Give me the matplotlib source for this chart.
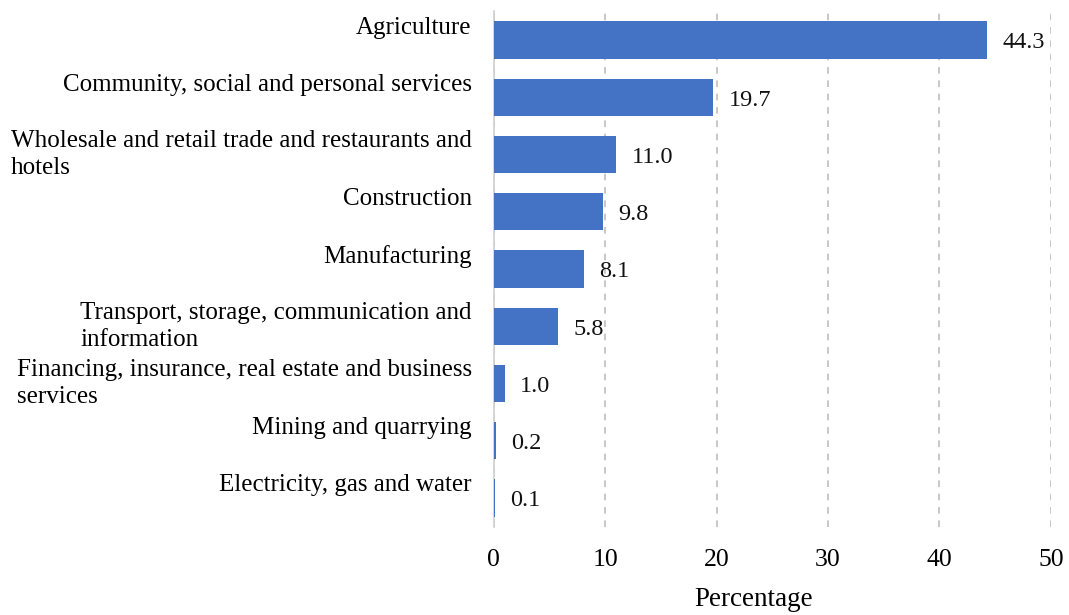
import matplotlib
matplotlib.use("Agg")
import matplotlib.pyplot as plt

# Data
# ----
sectors = ["Agriculture",
           "Community, social and personal services",
           "Wholesale and retail trade and restaurants and\nhotels",
           "Construction",
           "Manufacturing",
           "Transport, storage, communication and\ninformation",
           "Financing, insurance, real estate and business\nservices",
           "Mining and quarrying",
           "Electricity, gas and water"]
share = [44.3, 19.7, 11.0, 9.8, 8.1, 5.8, 1.0, 0.2, 0.1]
xticks = [0, 10, 20, 30, 40, 50]

plt.rcParams['font.family'] = ['Liberation Serif', 'DejaVu Serif']

fig = plt.figure(figsize=(10.69, 6.15), dpi=100)
ax = fig.add_axes([0.462, 0.1437, 0.521, 0.8378])

pos = list(range(len(sectors)))
ax.barh(pos, share, height=0.65, color='#4472c4', zorder=3)

ax.set_ylim(len(sectors) - 0.5, -0.5)
ax.set_xlim(0, 50)
ax.set_xticks(xticks)
ax.tick_params(axis='x', length=0, pad=16, labelsize=18.5)
ax.set_yticks([])

for s in ['top', 'right', 'bottom']:
  ax.spines[s].set_visible(False)
ax.spines['left'].set_color('#d0d0d0')
ax.spines['left'].set_linewidth(1.2)

ax.xaxis.grid(True, linestyle=(0, (4, 4)), color='#bfbfbf', linewidth=1.2, zorder=0)

# category labels, single-line ones sit a little above the bar centre
for i, lab in enumerate(sectors):
  dy = 0 if '\n' in lab else 9
  ax.annotate(lab, xy=(0, i), xycoords=('axes fraction', 'data'),
              xytext=(-16, dy), textcoords='offset points',
              ha='right', va='center', multialignment='left', fontsize=18,
              linespacing=1.3)

# value labels
for i, v in enumerate(share):
  ax.annotate("%.1f" % v, xy=(v, i), xytext=(11, -2), textcoords='offset points',
              ha='left', va='center', fontsize=17.5, color='#111111')

ax.set_xlabel("Percentage", fontsize=19.5)
ax.xaxis.set_label_coords(0.467, -0.118)

plt.savefig('out.png', dpi=100)
